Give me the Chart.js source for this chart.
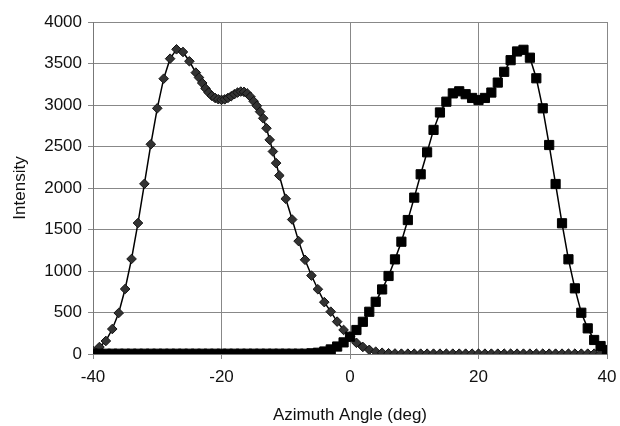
<!DOCTYPE html>
<html>
<head>
<meta charset="utf-8">
<script src="https://cdn.jsdelivr.net/npm/chart.js@4/dist/chart.umd.min.js"></script>
<style>
  html, body { margin: 0; padding: 0; background: #fff; }
  #box { width: 620px; height: 426px; }
</style>
</head>
<body>
<div id="box"><canvas id="myChart"></canvas></div>
<script>
// diamond series (left peak)
const diamondX = [-40, -39, -38, -37, -36, -35, -34, -33, -32, -31, -30, -29, -28, -27, -26, -25, -24,
  -23.5, -23, -22.5, -22, -21.5, -21, -20.5, -20, -19.5, -19, -18.5, -18, -17.5, -17, -16.5, -16,
  -15.5, -15, -14.5, -14, -13.5, -13, -12.5, -12, -11.5,
  -11, -10, -9, -8, -7, -6, -5, -4, -3, -2, -1, 0, 1, 2, 3, 4, 5, 6, 7,
  8, 9, 10, 11, 12, 13, 14, 15, 16, 17, 18, 19, 20, 21, 22, 23, 24,
  25, 26, 27, 28, 29, 30, 31, 32, 33, 34, 35, 36, 37, 38, 39, 40]
const diamondY = [36, 84, 157, 301, 494, 783, 1145, 1578, 2050, 2527, 2960, 3317, 3558, 3671, 3639, 3527, 3390,
  3330, 3265, 3200, 3150, 3110, 3085, 3070, 3062, 3068, 3085, 3105, 3130, 3150, 3162, 3158, 3140,
  3100, 3045, 2990, 2920, 2840, 2720, 2580, 2440, 2300,
  2150, 1870, 1620, 1360, 1135, 945, 780, 625, 510, 390, 290, 210, 135, 85, 50, 28, 15, 9, 6,
  4, 4, 4, 4, 4, 4, 4, 4, 4, 4, 4, 4, 4, 4, 4, 4, 4,
  4, 4, 4, 4, 4, 4, 4, 4, 4, 4, 4, 4, 4, 4, 4, 4]

// square series (right peak)
const squareX = [-40, -39, -38, -37, -36, -35, -34, -33, -32, -31, -30, -29, -28, -27, -26, -25, -24,
  -23, -22, -21, -20, -19, -18, -17, -16, -15, -14, -13, -12, -11, -10, -9, -8, -7,
  -6, -5, -4, -3, -2, -1, 0, 1, 2, 3, 4, 5, 6, 7, 8, 9, 10, 11, 12, 13, 14, 15, 16, 17, 18, 19, 20,
  21, 22, 23, 24, 25, 26, 27, 28, 29, 30, 31, 32, 33, 34, 35, 36, 37, 38, 39, 40]
const squareY = [3, 3, 3, 3, 3, 3, 3, 3, 3, 3, 3, 3, 3, 3, 3, 3, 3,
  3, 3, 3, 3, 3, 3, 3, 3, 3, 3, 3, 3, 3, 3, 3, 3, 3,
  8, 15, 30, 55, 90, 140, 208, 289, 388, 509, 629, 778, 940, 1140, 1353, 1614, 1884, 2165, 2430, 2700, 2910, 3040, 3140, 3165, 3130, 3085, 3060,
  3085, 3150, 3270, 3400, 3540, 3645, 3665, 3570, 3322, 2960, 2518, 2048, 1575, 1141, 791, 497, 309, 169, 96, 48]

const xTicks = [-40, -20, 0, 20, 40]
const yTicks = [0, 500, 1000, 1500, 2000, 2500, 3000, 3500, 4000]

function toPoints(xs, ys) {
  let pts = []
  for (let i = 0; i < xs.length; i++) {
    pts.push({ x: xs[i], y: ys[i] })
  }
  return pts
}

const FONT = { family: '"Liberation Sans", Arial, sans-serif', size: 17 }

const data = {
  datasets: [
    {
      label: 'squares',
      data: toPoints(squareX, squareY),
      showLine: true,
      borderColor: '#000',
      borderWidth: 1.5,
      pointStyle: 'rect',
      pointRadius: 6.5,
      pointBackgroundColor: '#000',
      pointBorderColor: '#000',
      pointBorderWidth: 1
    },
    {
      label: 'diamonds',
      data: toPoints(diamondX, diamondY),
      showLine: true,
      borderColor: '#000',
      borderWidth: 1.5,
      pointStyle: 'rectRot',
      pointRadius: 4.8,
      pointBackgroundColor: '#333',
      pointBorderColor: '#111',
      pointBorderWidth: 1
    }
  ]
}

const config = {
  type: 'scatter',
  data: data,
  options: {
    responsive: true,
    maintainAspectRatio: false,
    animation: false,
    layout: { padding: { top: 22, right: 13, left: 0, bottom: 0 } },
    plugins: {
      legend: { display: false },
      tooltip: { enabled: false }
    },
    scales: {
      x: {
        type: 'linear',
        min: -40,
        max: 40,
        afterBuildTicks: (axis) => { axis.ticks = xTicks.map(v => ({ value: v })) },
        afterFit: (axis) => {
          axis.height = 72
          axis.paddingLeft = 0
          axis.paddingRight = 0
        },
        grid: { color: '#888', lineWidth: 1, tickLength: 5, tickColor: '#888' },
        border: { color: '#777', width: 1 },
        ticks: { color: '#111', font: FONT, padding: 8, maxRotation: 0, callback: (v) => String(v) },
        title: { display: true, text: 'Azimuth Angle (deg)', color: '#111', font: FONT, padding: { top: 4, bottom: 0 } }
      },
      y: {
        min: 0,
        max: 4000,
        afterBuildTicks: (axis) => { axis.ticks = yTicks.map(v => ({ value: v })) },
        afterFit: (axis) => {
          axis.width = 93
          axis.paddingTop = 0
          axis.paddingBottom = 0
        },
        grid: { color: '#888', lineWidth: 1, tickLength: 5, tickColor: '#888' },
        border: { color: '#777', width: 1 },
        ticks: { color: '#111', font: FONT, padding: 6, callback: (v) => String(v) },
        title: { display: true, text: 'Intensity', color: '#111', font: FONT, padding: { top: 10, bottom: 4 } }
      }
    }
  }
}

const myChart = new Chart(document.getElementById('myChart'), config)
</script>
</body>
</html>
